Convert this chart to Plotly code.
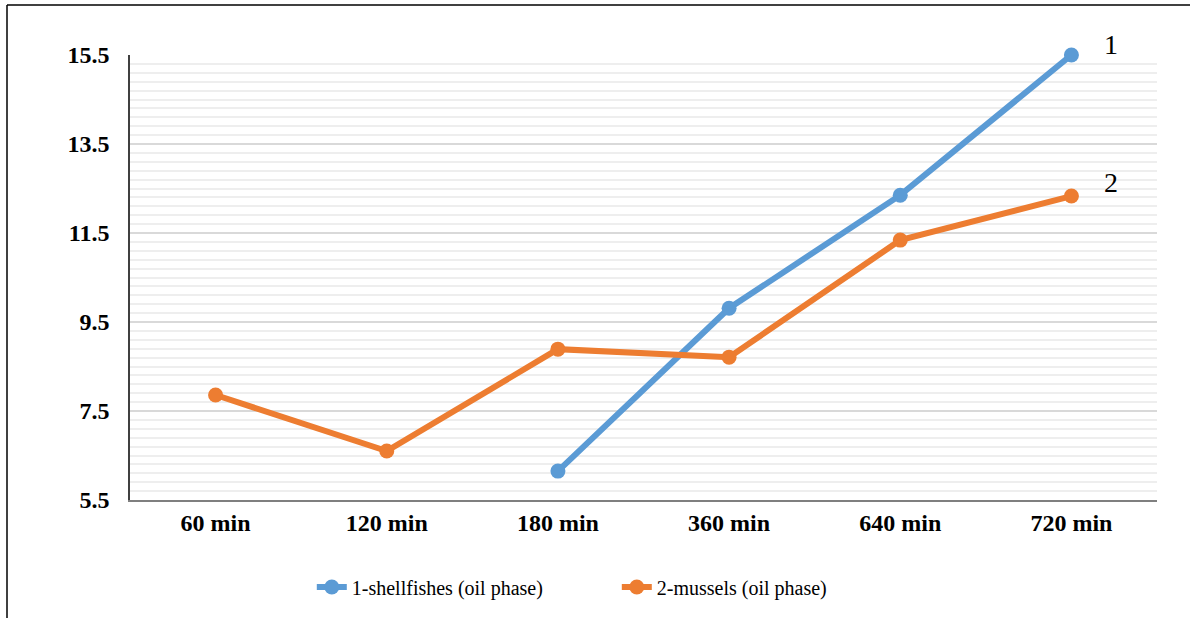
import plotly.graph_objects as go

categories = ["60 min", "120 min", "180 min", "360 min", "640 min", "720 min"]
shellfishes = [None, None, 6.15, 9.81, 12.35, 15.5]
mussels = [7.86, 6.6, 8.89, 8.71, 11.34, 12.33]
y_ticks = [5.5, 7.5, 9.5, 11.5, 13.5, 15.5]
names = ["1-shellfishes (oil phase)", "2-mussels (oil phase)"]
end_labels = ["1", "2"]

BLUE = "#5b9bd5"
ORANGE = "#ed7d31"
FONT = "Liberation Serif, Times New Roman, serif"

W, H = 1190, 618
L, R, T, B = 130, 33, 55, 118
pw = W - L - R
ph = H - T - B

fig = go.Figure()
fig.add_trace(go.Scatter(x=categories, y=shellfishes, mode="lines+markers", name=names[0],
                         line=dict(color=BLUE, width=6), marker=dict(color=BLUE, size=15),
                         connectgaps=False, cliponaxis=False))
fig.add_trace(go.Scatter(x=categories, y=mussels, mode="lines+markers", name=names[1],
                         line=dict(color=ORANGE, width=6), marker=dict(color=ORANGE, size=15),
                         cliponaxis=False))

for lab, series, ys in zip(end_labels, [shellfishes, mussels], [11, 14]):
    fig.add_annotation(x=categories[-1], y=series[-1], text=lab, showarrow=False,
                       xshift=40, yshift=ys, font=dict(family=FONT, size=28, color="black"))

# outer frame lines (top & left) as in the reference image
fx = (7 - L) / pw
fy = (H - B - 5) / ph
fig.add_shape(type="line", xref="paper", yref="paper", x0=fx, x1=(W - L) / pw + 0.01, y0=fy, y1=fy,
              line=dict(color="black", width=1.5))
fig.add_shape(type="line", xref="paper", yref="paper", x0=fx, x1=fx, y0=fy, y1=-(B + 5) / ph,
              line=dict(color="black", width=1.5))

fig.update_layout(
    width=W, height=H,
    margin=dict(l=L, r=R, t=T, b=B),
    paper_bgcolor="white", plot_bgcolor="white",
    font=dict(family=FONT, color="black"),
    showlegend=True,
    legend=dict(orientation="h", x=0.474, xanchor="center", y=-(587 - (H - B)) / ph, yanchor="middle",
                font=dict(family=FONT, size=20, color="black"), entrywidth=260, entrywidthmode="pixels"),
    xaxis=dict(type="category", range=[-0.5, 5.5], showgrid=False, showline=True,
               linecolor="#7f7f7f", linewidth=1.5, ticks="", ticklen=0, ticklabelstandoff=0,
               tickfont=dict(family=FONT, size=24, color="black", weight="bold")),
    yaxis=dict(range=[5.5, 15.5], tickvals=y_ticks, ticktext=[f"{v:.1f}" for v in y_ticks],
               showgrid=True, gridcolor="#d9d9d9", gridwidth=1.5,
               minor=dict(dtick=0.2, tick0=5.5, showgrid=True, gridcolor="#eeeeee", gridwidth=1.5),
               showline=True, linecolor="#404040", linewidth=1.5, ticks="", zeroline=False,
               ticklabelstandoff=14,
               tickfont=dict(family=FONT, size=24, color="black", weight="bold")),
)

fig.write_html("out.html", config={"displayModeBar": False},
               post_script="document.body.style.margin='0';document.body.style.overflow='hidden';")
